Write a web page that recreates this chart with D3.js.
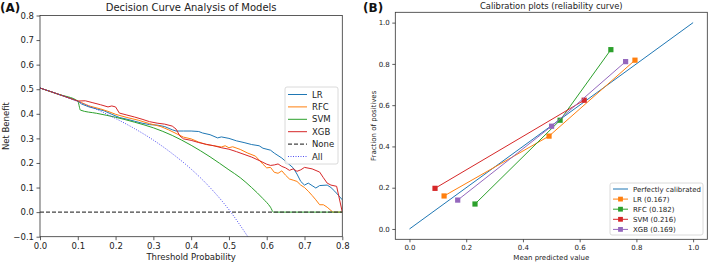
<!DOCTYPE html>
<html>
<head>
<meta charset="utf-8">
<script src="https://cdn.jsdelivr.net/npm/d3@7"></script>
<style>
  body { margin: 0; background: #fff; }
  svg { display: block; font-family: "DejaVu Sans", sans-serif; }
</style>
</head>
<body>
<div id="chart"></div>
<script>
// decision curve data: [threshold, net benefit]
var dca_lr = [[0,0.505],[0.05,0.479],[0.1,0.452],[0.11,0.44],[0.13,0.428],[0.15,0.42],[0.17,0.412],[0.19,0.398],[0.21,0.385],[0.23,0.378],[0.25,0.37],[0.27,0.362],[0.29,0.356],[0.31,0.354],[0.33,0.348],[0.35,0.335],[0.36,0.33],[0.38,0.33],[0.40,0.33],[0.42,0.328],[0.43,0.322],[0.45,0.315],[0.47,0.302],[0.48,0.306],[0.50,0.30],[0.52,0.29],[0.54,0.283],[0.56,0.275],[0.58,0.27],[0.59,0.26],[0.61,0.252],[0.62,0.24],[0.64,0.22],[0.655,0.2],[0.67,0.18],[0.68,0.155],[0.69,0.125],[0.70,0.11],[0.71,0.118],[0.72,0.108],[0.73,0.098],[0.74,0.108],[0.76,0.11],[0.77,0.1],[0.78,0.085],[0.79,0.068],[0.80,0.05]];
var dca_rfc = [[0,0.505],[0.05,0.479],[0.1,0.452],[0.13,0.432],[0.16,0.42],[0.18,0.41],[0.2,0.398],[0.23,0.385],[0.26,0.374],[0.29,0.36],[0.32,0.348],[0.34,0.335],[0.36,0.32],[0.38,0.305],[0.40,0.298],[0.42,0.285],[0.44,0.275],[0.46,0.27],[0.48,0.265],[0.49,0.27],[0.50,0.262],[0.51,0.266],[0.53,0.255],[0.55,0.24],[0.57,0.228],[0.58,0.212],[0.59,0.195],[0.60,0.18],[0.61,0.182],[0.62,0.162],[0.63,0.158],[0.64,0.168],[0.65,0.15],[0.66,0.135],[0.67,0.13],[0.68,0.125],[0.69,0.11],[0.70,0.1],[0.71,0.085],[0.72,0.068],[0.73,0.05],[0.74,0.03],[0.75,0.03],[0.76,0.02],[0.775,0.0],[0.80,0.0]];
var dca_svm = [[0,0.505],[0.05,0.479],[0.1,0.452],[0.107,0.415],[0.15,0.402],[0.2,0.386],[0.25,0.366],[0.3,0.343],[0.35,0.312],[0.4,0.272],[0.45,0.225],[0.5,0.172],[0.53,0.14],[0.56,0.1],[0.59,0.055],[0.61,0.02],[0.618,0],[0.8,0]];
var dca_xgb = [[0,0.505],[0.05,0.479],[0.1,0.452],[0.12,0.453],[0.14,0.445],[0.16,0.437],[0.18,0.428],[0.19,0.432],[0.2,0.428],[0.21,0.403],[0.23,0.395],[0.25,0.387],[0.27,0.378],[0.29,0.368],[0.31,0.362],[0.33,0.358],[0.35,0.35],[0.36,0.338],[0.37,0.31],[0.38,0.298],[0.40,0.292],[0.42,0.283],[0.44,0.276],[0.46,0.27],[0.48,0.262],[0.50,0.256],[0.52,0.246],[0.54,0.235],[0.56,0.224],[0.58,0.21],[0.60,0.195],[0.61,0.19],[0.62,0.192],[0.63,0.196],[0.64,0.186],[0.65,0.18],[0.66,0.17],[0.67,0.176],[0.68,0.166],[0.69,0.172],[0.70,0.182],[0.72,0.176],[0.74,0.163],[0.75,0.14],[0.76,0.118],[0.77,0.11],[0.785,0.105],[0.80,0.0]];
var dca_none = [[0,0],[0.8,0]];
var dca_all = [[0,0.505],[0.05,0.479],[0.1,0.45],[0.15,0.418],[0.2,0.381],[0.25,0.34],[0.3,0.293],[0.35,0.238],[0.4,0.175],[0.45,0.1],[0.5,0.01],[0.55,-0.1]];

var dca_names = ["LR", "RFC", "SVM", "XGB", "None", "All"];
var dca_xticks = [0, 0.1, 0.2, 0.3, 0.4, 0.5, 0.6, 0.7, 0.8];
var dca_yticks = [-0.1, 0, 0.1, 0.2, 0.3, 0.4, 0.5, 0.6, 0.7, 0.8];

// calibration data: [mean predicted, fraction of positives]
var cal_lr = [[0.122,0.160],[0.492,0.45],[0.795,0.818]];
var cal_rfc = [[0.231,0.121],[0.531,0.527],[0.71,0.869]];
var cal_svm = [[0.090,0.197],[0.616,0.624]];
var cal_xgb = [[0.170,0.140],[0.501,0.498],[0.762,0.811]];
var cal_perfect = [[0,0],[1,1]];
var cal_names = ["Perfectly calibrated", "LR (0.167)", "RFC (0.182)", "SVM (0.216)", "XGB (0.169)"];
var cal_ticks = [0, 0.2, 0.4, 0.6, 0.8, 1.0];

var C_BLUE = "#1f77b4", C_ORANGE = "#ff7f0e", C_GREEN = "#2ca02c", C_RED = "#d62728", C_PURPLE = "#9467bd";

var svg = d3.select("#chart").append("svg")
    .attr("width", 709)
    .attr("height", 264);

var fmt = d3.format(".1f");

function style_axis(g, size) {
    g.selectAll("path").attr("stroke", "#333").attr("stroke-width", 0.8);
    g.selectAll("line").attr("stroke", "#333").attr("stroke-width", 0.8);
    g.selectAll("text").attr("fill", "#222").style("font-size", size + "px").attr("font-family", "DejaVu Sans");
}

// ---------- panel A ----------
var ax = { left: 40, right: 342.3, top: 15.5, bottom: 236.7 };
var xa = d3.scaleLinear().domain([0, 0.8]).range([ax.left, ax.right]);
var ya = d3.scaleLinear().domain([-0.1, 0.8]).range([ax.bottom, ax.top]);

svg.append("clipPath").attr("id", "clipA")
    .append("rect")
    .attr("x", ax.left).attr("y", ax.top)
    .attr("width", ax.right - ax.left).attr("height", ax.bottom - ax.top);

var line_a = d3.line().x(function (d) { return xa(d[0]); }).y(function (d) { return ya(d[1]); });
var curve_a = d3.line().curve(d3.curveMonotoneX).x(function (d) { return xa(d[0]); }).y(function (d) { return ya(d[1]); });

var plotA = svg.append("g").attr("clip-path", "url(#clipA)");
var dca_series = [
    { data: dca_lr, color: C_BLUE, gen: line_a, dash: null, w: 1 },
    { data: dca_rfc, color: C_ORANGE, gen: line_a, dash: null, w: 1 },
    { data: dca_svm, color: C_GREEN, gen: curve_a, dash: null, w: 1 },
    { data: dca_xgb, color: C_RED, gen: line_a, dash: null, w: 1 },
    { data: dca_none, color: "#444", gen: line_a, dash: "4,2", w: 1.2 },
    { data: dca_all, color: "#3b3bf0", gen: curve_a, dash: "1,1.5", w: 0.9 }
];
dca_series.forEach(function (s) {
    plotA.append("path")
        .attr("d", s.gen(s.data))
        .attr("fill", "none")
        .attr("stroke", s.color)
        .attr("stroke-width", s.w)
        .attr("stroke-dasharray", s.dash);
});

var gx = svg.append("g").attr("transform", "translate(0," + ax.bottom + ")")
    .call(d3.axisBottom(xa).tickValues(dca_xticks).tickFormat(fmt).tickSize(3.5).tickPadding(2.5));
style_axis(gx, 8.5);
var gy = svg.append("g").attr("transform", "translate(" + ax.left + ",0)")
    .call(d3.axisLeft(ya).tickValues(dca_yticks).tickFormat(fmt).tickSize(3.5).tickPadding(2.5));
style_axis(gy, 8.5);
gx.select(".domain").remove();
gy.select(".domain").remove();
svg.append("rect")
    .attr("x", ax.left).attr("y", ax.top)
    .attr("width", ax.right - ax.left).attr("height", ax.bottom - ax.top)
    .attr("fill", "none").attr("stroke", "#333").attr("stroke-width", 0.8);

svg.append("text").attr("x", (ax.left + ax.right) / 2).attr("y", 11)
    .attr("text-anchor", "middle").style("font-size", "10px").attr("fill", "#222")
    .text("Decision Curve Analysis of Models");
svg.append("text").attr("x", (ax.left + ax.right) / 2).attr("y", 260)
    .attr("text-anchor", "middle").style("font-size", "8.5px").attr("fill", "#222")
    .text("Threshold Probability");
svg.append("text").attr("transform", "translate(8.5," + ((ax.top + ax.bottom) / 2) + ") rotate(-90)")
    .attr("text-anchor", "middle").style("font-size", "8.5px").attr("fill", "#222")
    .text("Net Benefit");
svg.append("text").attr("x", 0).attr("y", 12)
    .style("font-size", "12px").style("font-weight", "bold").attr("fill", "#111")
    .text("(A)");

// legend A
var legA = svg.append("g").attr("transform", "translate(285,87)");
legA.append("rect").attr("width", 53).attr("height", 77).attr("rx", 2)
    .attr("fill", "white").attr("fill-opacity", 0.8).attr("stroke", "#d0d0d0").attr("stroke-width", 0.8);
dca_names.forEach(function (name, i) {
    var s = dca_series[i];
    var yy = 7.5 + i * 12.4;
    legA.append("line").attr("x1", 3).attr("x2", 22).attr("y1", yy).attr("y2", yy)
        .attr("stroke", s.color).attr("stroke-width", s.w).attr("stroke-dasharray", s.dash);
    legA.append("text").attr("x", 27).attr("y", yy + 3)
        .style("font-size", "8.5px").attr("fill", "#222").text(name);
});

// ---------- panel B ----------
var bx = { left: 395.3, right: 707.3, top: 12.3, bottom: 239.3 };
var xb = d3.scaleLinear().domain([-0.05, 1.05]).range([bx.left, bx.right]);
var yb = d3.scaleLinear().domain([-0.05, 1.05]).range([bx.bottom, bx.top]);
var line_b = d3.line().x(function (d) { return xb(d[0]); }).y(function (d) { return yb(d[1]); });

var cal_series = [
    { data: cal_perfect, color: C_BLUE, marker: false },
    { data: cal_lr, color: C_ORANGE, marker: true },
    { data: cal_rfc, color: C_GREEN, marker: true },
    { data: cal_svm, color: C_RED, marker: true },
    { data: cal_xgb, color: C_PURPLE, marker: true }
];
var plotB = svg.append("g");
cal_series.forEach(function (s) {
    plotB.append("path").attr("d", line_b(s.data))
        .attr("fill", "none").attr("stroke", s.color).attr("stroke-width", 1);
    if (s.marker) {
        plotB.selectAll(null).data(s.data).enter().append("rect")
            .attr("x", function (d) { return xb(d[0]) - 2.6; })
            .attr("y", function (d) { return yb(d[1]) - 2.6; })
            .attr("width", 5.2).attr("height", 5.2)
            .attr("fill", s.color);
    }
});

var gxb = svg.append("g").attr("transform", "translate(0," + bx.bottom + ")")
    .call(d3.axisBottom(xb).tickValues(cal_ticks).tickFormat(fmt).tickSize(3).tickPadding(2.5));
style_axis(gxb, 7);
var gyb = svg.append("g").attr("transform", "translate(" + bx.left + ",0)")
    .call(d3.axisLeft(yb).tickValues(cal_ticks).tickFormat(fmt).tickSize(3).tickPadding(2.5));
style_axis(gyb, 7);
gxb.select(".domain").remove();
gyb.select(".domain").remove();
svg.append("rect")
    .attr("x", bx.left).attr("y", bx.top)
    .attr("width", bx.right - bx.left).attr("height", bx.bottom - bx.top)
    .attr("fill", "none").attr("stroke", "#333").attr("stroke-width", 0.8);

svg.append("text").attr("x", (bx.left + bx.right) / 2).attr("y", 8.5)
    .attr("text-anchor", "middle").style("font-size", "8.4px").attr("fill", "#222")
    .text("Calibration plots (reliability curve)");
svg.append("text").attr("x", (bx.left + bx.right) / 2).attr("y", 259.5)
    .attr("text-anchor", "middle").style("font-size", "7px").attr("fill", "#222")
    .text("Mean predicted value");
svg.append("text").attr("transform", "translate(375.5," + ((bx.top + bx.bottom) / 2) + ") rotate(-90)")
    .attr("text-anchor", "middle").style("font-size", "7px").attr("fill", "#222")
    .text("Fraction of positives");
svg.append("text").attr("x", 363).attr("y", 12)
    .style("font-size", "12px").style("font-weight", "bold").attr("fill", "#111")
    .text("(B)");

// legend B
var legB = svg.append("g").attr("transform", "translate(610,183)");
legB.append("rect").attr("width", 93).attr("height", 52).attr("rx", 2)
    .attr("fill", "white").attr("fill-opacity", 0.8).attr("stroke", "#d0d0d0").attr("stroke-width", 0.8);
cal_names.forEach(function (name, i) {
    var s = cal_series[i];
    var yy = 6 + i * 10.1;
    legB.append("line").attr("x1", 3).attr("x2", 18).attr("y1", yy).attr("y2", yy)
        .attr("stroke", s.color).attr("stroke-width", 1);
    if (s.marker) {
        legB.append("rect").attr("x", 10.5 - 2.4).attr("y", yy - 2.4)
            .attr("width", 4.8).attr("height", 4.8).attr("fill", s.color);
    }
    legB.append("text").attr("x", 23).attr("y", yy + 2.5)
        .style("font-size", "7px").attr("fill", "#222").text(name);
});
</script>
</body>
</html>
